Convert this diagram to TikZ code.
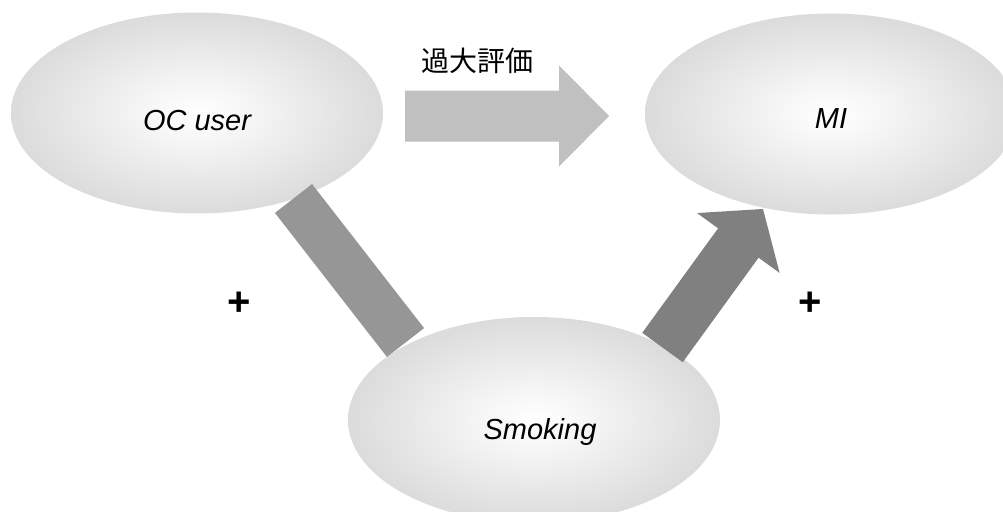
\documentclass[tikz,border=0pt]{standalone}
\usepackage{fontspec}
\setmainfont{Liberation Sans}
\newfontfamily\jpfont{Noto Sans CJK JP}
\usetikzlibrary{calc,shapes.geometric}

% soft white-to-grey fill for the three ovals
\pgfdeclareradialshading{ovalshade}{\pgfpoint{0bp}{0bp}}{%
  rgb(0bp)=(1,1,1); rgb(6bp)=(0.97,0.97,0.97); rgb(25bp)=(0.86,0.86,0.86);
  rgb(40bp)=(0.77,0.77,0.77); rgb(50bp)=(0.75,0.75,0.75)}

\definecolor{arrowlight}{RGB}{192,192,192}
\definecolor{bargrey}{RGB}{150,150,150}
\definecolor{arrowdark}{RGB}{128,128,128}

% block arrow: from, to, shaft half-width, head half-width, head length, colour
\newcommand\fatarrow[6]{%
  \coordinate (#1-hb) at ($(#2)!#5!(#1)$);
  \fill[#6] ($(#1)!#3!90:(#2)$) -- ($(#1-hb)!#3!90:(#2)$)
    -- ($(#1-hb)!#4!90:(#2)$) -- (#2) -- ($(#1-hb)!#4!-90:(#2)$)
    -- ($(#1-hb)!#3!-90:(#2)$) -- ($(#1)!#3!-90:(#2)$) -- cycle;}

\begin{document}
\begin{tikzpicture}[x=1pt,y=-1pt,
  oval/.style={ellipse, shading=ovalshade, draw=none, inner sep=0pt,
    minimum width=372pt},
  lbl/.style={font=\fontsize{29}{34}\selectfont\itshape, inner sep=0pt, anchor=base},
  sign/.style={font=\fontsize{40}{44}\selectfont\bfseries, inner sep=0pt, anchor=base},
  cjk/.style={font=\jpfont\fontsize{28}{32}\selectfont, inner sep=0pt}]

\useasboundingbox (0,0) rectangle (1003,511);
\fill[white] (0,0) rectangle (1003,511);
\clip (0,0) rectangle (1003,511);

% ovals
\node[oval, minimum height=201pt] (oc) at (197,113) {};
\node[oval, minimum height=201pt] (mi) at (831,114) {};
\node[oval, minimum height=206pt] (smk) at (534,420) {};

% OC user -- Smoking link
\coordinate (bS) at (293.5,198.5);
\coordinate (bE) at (405.5,342.5);
\draw[bargrey, line width=47pt, line cap=butt] (bS) -- (bE);

% Smoking -> MI
\coordinate (aS) at (662.5,347.5);
\coordinate (aE) at (763,209);
\fatarrow{aS}{aE}{25pt}{51pt}{42pt}{arrowdark}

% overestimation arrow
\coordinate (cS) at (405,116);
\coordinate (cE) at (609,116);
\fatarrow{cS}{cE}{25.5pt}{50.5pt}{50pt}{arrowlight}

% labels
\node[lbl] (octxt) at (197,130) {OC user};
\node[lbl] (mitxt) at (831,128) {MI};
\node[lbl] (smktxt) at (540,439) {Smoking};
\node[cjk] (over) at (477,61) {過大評価};
\node[sign] (plusL) at (239,315) {+};
\node[sign] (plusR) at (810,315) {+};
\end{tikzpicture}
\end{document}
